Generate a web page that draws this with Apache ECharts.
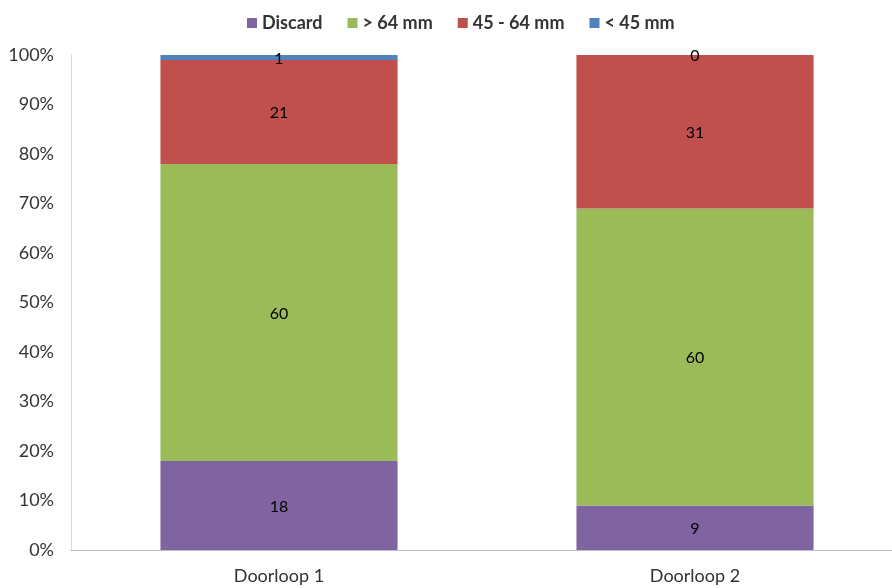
<!DOCTYPE html>
<html><head><meta charset="utf-8">
<script src="https://cdn.jsdelivr.net/npm/echarts@6/dist/echarts.min.js"></script>
<style>html,body{margin:0;padding:0;background:#fff;overflow:hidden}#c{width:903px;height:588px}</style>
</head><body><div id="c"></div>
<script>
const categories = ['Doorloop 1', 'Doorloop 2'];
const discard = [18, 9];
const over64 = [60, 60];
const mid4564 = [21, 31];
const under45 = [1, 0];
const seriesNames = ['Discard', '> 64 mm', '45 - 64 mm', '< 45 mm'];
const colors = ['#8064A2', '#9BBB59', '#C0504D', '#4F81BD'];

const font = 'Lato, "Open Sans", sans-serif';
const chart = echarts.init(document.getElementById('c'));
const mk = (name, data, color) => ({
  name, type: 'bar', stack: 'total', data, barWidth: '57%',
  itemStyle: { color },
  label: { show: true, position: 'inside', color: '#000', fontSize: 16, fontFamily: font, offset: [0, 1] }
});
chart.setOption({
  animation: false,
  legend: {
    top: 9, left: 242, itemWidth: 10, itemHeight: 10, itemGap: 25,
    icon: 'rect',
    textStyle: { fontSize: 18, fontWeight: 'bold', color: '#333', fontFamily: font },
    data: seriesNames
  },
  grid: { left: 71, right: 0, top: 55, bottom: 38, containLabel: false },
  xAxis: {
    type: 'category', data: categories,
    axisLine: { lineStyle: { color: '#bfbfbf' } },
    axisTick: { show: false },
    axisLabel: { fontSize: 18, color: '#333', fontFamily: font, margin: 17 }
  },
  yAxis: {
    type: 'value', min: 0, max: 100, interval: 10,
    axisLine: { show: true, lineStyle: { color: '#d9d9d9' } },
    axisTick: { show: false },
    splitLine: { show: false },
    axisLabel: { formatter: '{value}%', fontSize: 18, color: '#333', fontFamily: font, margin: 17 }
  },
  series: [
    mk(seriesNames[0], discard, colors[0]),
    mk(seriesNames[1], over64, colors[1]),
    mk(seriesNames[2], mid4564, colors[2]),
    mk(seriesNames[3], under45, colors[3])
  ]
});
</script></body></html>
